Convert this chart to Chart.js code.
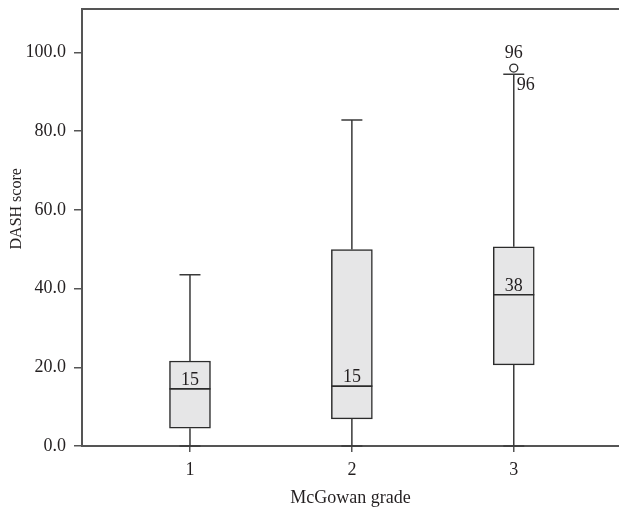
<!DOCTYPE html>
<html>
<head>
<meta charset="utf-8">
<script src="https://cdn.jsdelivr.net/npm/chart.js@4/dist/chart.umd.min.js"></script>
<style>
  html, body { margin: 0; padding: 0; background: #fff; }
  #wrap { width: 619px; height: 507px; position: relative; }
</style>
</head>
<body>
<div id="wrap"><canvas id="box"></canvas></div>
<script>
(function () {
  'use strict';

  // grades on the x axis and the box statistics
  var grades = [1, 2, 3];
  var gradeLabels = ['1', '2', '3'];
  var q1 = [4.5, 6.9, 20.6];
  var median = [14.5, 15.2, 38.4];
  var q3 = [21.6, 49.9, 50.6];
  var whiskerLow = [0, 0, 0];
  var whiskerHigh = [43.5, 82.8, 94.4];
  var medianLabels = ['15', '15', '38'];

  var outliers = [{ x: 3, y: 96 }];
  var outlierCase = ['96'];
  var capLabel = { grade: 3, value: 94.4, text: '96' };

  var yTicks = [0, 20, 40, 60, 80, 100];

  var ink = '#231f20';
  var axisColor = '#555555';
  var fontFamily = '"Liberation Serif", "Times New Roman", serif';
  var fontSize = 18;

  var boxes = grades.map(function (g, i) {
    return { x: g, y: [q1[i], q3[i]] };
  });

  var whiskerPlugin = {
    id: 'whiskers',
    afterDatasetsDraw: function (chart) {
      var ctx = chart.ctx;
      var xs = chart.scales.x;
      var ys = chart.scales.y;
      var meta = chart.getDatasetMeta(0);
      var capHalf = 10.5;
      ctx.save();
      grades.forEach(function (g, i) {
        var x = xs.getPixelForValue(g);
        var bar = meta.data[i];
        var half = bar.width / 2;
        var yQ1 = ys.getPixelForValue(q1[i]);
        var yQ3 = ys.getPixelForValue(q3[i]);
        var yLo = ys.getPixelForValue(whiskerLow[i]);
        var yHi = ys.getPixelForValue(whiskerHigh[i]);
        var yMed = ys.getPixelForValue(median[i]);

        ctx.strokeStyle = '#3a3a3a';
        ctx.lineWidth = 1.5;
        ctx.beginPath();
        ctx.moveTo(x, yQ3); ctx.lineTo(x, yHi);
        ctx.moveTo(x - capHalf, yHi); ctx.lineTo(x + capHalf, yHi);
        ctx.moveTo(x, yQ1); ctx.lineTo(x, yLo);
        ctx.moveTo(x - capHalf, yLo); ctx.lineTo(x + capHalf, yLo);
        ctx.stroke();

        ctx.strokeStyle = '#2b2b2b';
        ctx.lineWidth = 1.6;
        ctx.beginPath();
        ctx.moveTo(x - half, yMed); ctx.lineTo(x + half, yMed);
        ctx.stroke();

        ctx.fillStyle = ink;
        ctx.font = fontSize + 'px ' + fontFamily;
        ctx.textAlign = 'center';
        ctx.textBaseline = 'alphabetic';
        ctx.fillText(medianLabels[i], x, yMed - 4);
      });

      // outlier case label above the point
      ctx.textAlign = 'center';
      ctx.textBaseline = 'alphabetic';
      outliers.forEach(function (p, i) {
        ctx.fillText(outlierCase[i], xs.getPixelForValue(p.x), ys.getPixelForValue(p.y) - 10);
      });
      // label beside the upper whisker cap
      ctx.textAlign = 'left';
      ctx.textBaseline = 'top';
      ctx.fillText(capLabel.text, xs.getPixelForValue(capLabel.grade) + 3, ys.getPixelForValue(capLabel.value) + 2);

      // top frame line
      var a = chart.chartArea;
      ctx.strokeStyle = axisColor;
      ctx.lineWidth = 2;
      ctx.beginPath();
      ctx.moveTo(a.left - 1, a.top);
      ctx.lineTo(a.right, a.top);
      ctx.stroke();

      // y axis title, sitting a little above the middle as in the source
      ctx.save();
      ctx.font = '16px ' + fontFamily;
      ctx.translate(17, ys.getPixelForValue(60) - 1);
      ctx.rotate(-Math.PI / 2);
      ctx.textAlign = 'center';
      ctx.textBaseline = 'middle';
      ctx.fillText('DASH score', 0, 0);
      ctx.restore();
      ctx.restore();
    }
  };

  new Chart(document.getElementById('box'), {
    type: 'bar',
    data: {
      datasets: [{
        type: 'bar',
        data: boxes,
        backgroundColor: '#e6e6e7',
        borderColor: '#2b2b2b',
        borderWidth: 1.5,
        borderSkipped: false,
        barThickness: 41,
        order: 2
      }, {
        type: 'scatter',
        data: outliers,
        pointRadius: 4,
        pointBackgroundColor: '#ffffff',
        pointBorderColor: '#2b2b2b',
        pointBorderWidth: 1.3,
        clip: false,
        order: 1
      }]
    },
    options: {
      responsive: true,
      maintainAspectRatio: false,
      animation: false,
      events: [],
      layout: { autoPadding: false, padding: { top: 9, right: 0, bottom: 0, left: 0 } },
      plugins: { legend: { display: false }, tooltip: { enabled: false } },
      scales: {
        x: {
          type: 'linear',
          min: 0.333,
          max: 3.65,
          offset: false,
          grid: { display: true, offset: false, drawOnChartArea: false, drawTicks: true, tickLength: 6, color: axisColor, lineWidth: 1.5 },
          border: { display: true, color: axisColor, width: 2 },
          afterBuildTicks: function (scale) {
            scale.ticks = grades.map(function (g) { return { value: g }; });
          },
          afterFit: function (scale) {
            scale.height = 61;
            scale.paddingLeft = 0;
            scale.paddingRight = 0;
          },
          ticks: {
            color: ink,
            padding: 7,
            maxRotation: 0,
            font: { family: fontFamily, size: fontSize },
            callback: function (v) {
              var i = grades.indexOf(v);
              return i >= 0 ? gradeLabels[i] : '';
            }
          },
          title: {
            display: true,
            text: 'McGowan grade',
            color: ink,
            font: { family: fontFamily, size: fontSize },
            padding: { top: 0, bottom: -2 }
          }
        },
        y: {
          min: 0,
          max: 111,
          grid: { display: true, drawOnChartArea: false, drawTicks: true, tickLength: 8, color: axisColor, lineWidth: 1.5 },
          border: { display: true, color: axisColor, width: 2 },
          afterBuildTicks: function (scale) {
            scale.ticks = yTicks.map(function (v) { return { value: v }; });
          },
          afterFit: function (scale) {
            scale.width = 82;
            scale.paddingTop = 0;
            scale.paddingBottom = 0;
          },
          ticks: {
            color: ink,
            padding: 8,
            font: { family: fontFamily, size: fontSize },
            callback: function (v) { return Number(v).toFixed(1); }
          },
          title: { display: false }
        }
      }
    },
    plugins: [whiskerPlugin]
  });
})();
</script>
</body>
</html>
